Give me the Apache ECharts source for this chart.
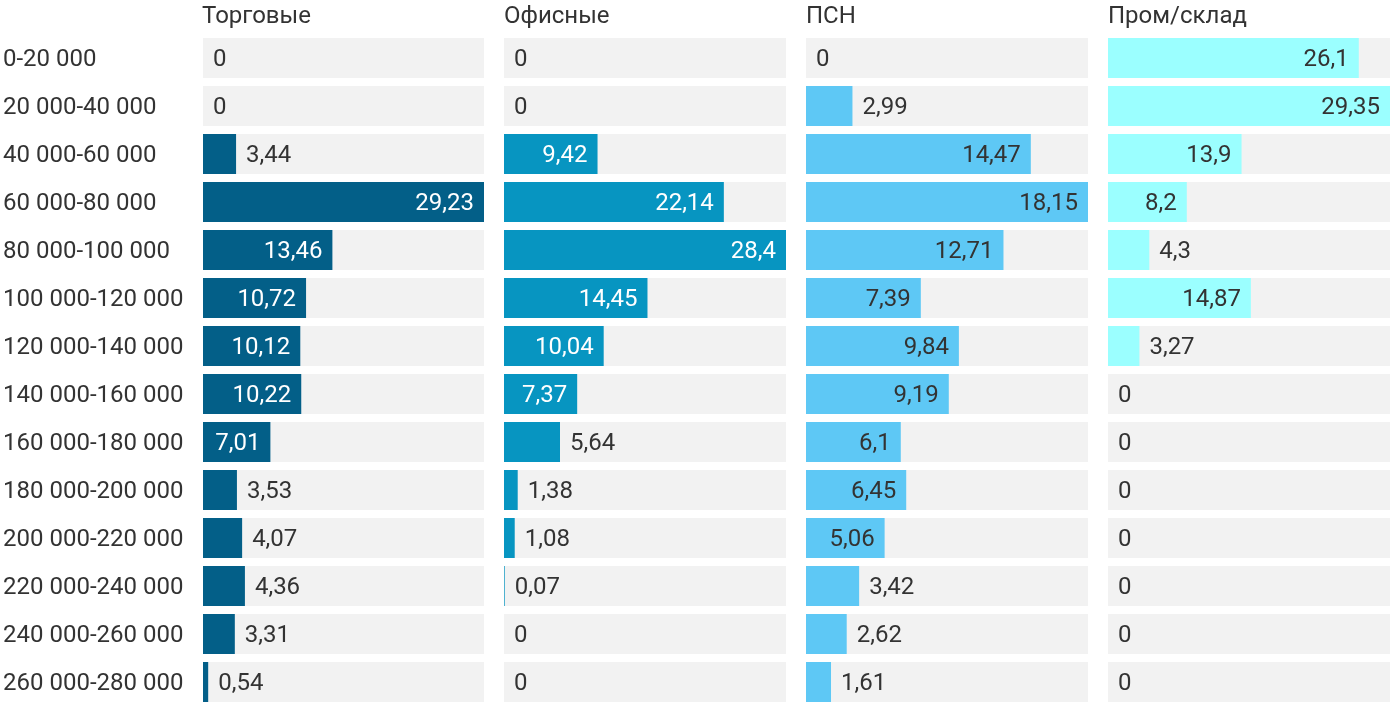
<!DOCTYPE html>
<html>
<head>
<meta charset="utf-8">
<script src="https://cdn.jsdelivr.net/npm/echarts@6/dist/echarts.min.js"></script>
<style>html,body{margin:0;padding:0;background:#fff}#c{width:1400px;height:718px}</style>
</head>
<body>
<div id="c"></div>
<script>
var categories = ['0-20 000','20 000-40 000','40 000-60 000','60 000-80 000','80 000-100 000','100 000-120 000','120 000-140 000','140 000-160 000','160 000-180 000','180 000-200 000','200 000-220 000','220 000-240 000','240 000-260 000','260 000-280 000'];
var panelTitles = ['Торговые','Офисные','ПСН','Пром/склад'];
var retail    = [0, 0, 3.44, 29.23, 13.46, 10.72, 10.12, 10.22, 7.01, 3.53, 4.07, 4.36, 3.31, 0.54];
var office    = [0, 0, 9.42, 22.14, 28.4, 14.45, 10.04, 7.37, 5.64, 1.38, 1.08, 0.07, 0, 0];
var psn       = [0, 2.99, 14.47, 18.15, 12.71, 7.39, 9.84, 9.19, 6.1, 6.45, 5.06, 3.42, 2.62, 1.61];
var warehouse = [26.1, 29.35, 13.9, 8.2, 4.3, 14.87, 3.27, 0, 0, 0, 0, 0, 0, 0];

var seriesValues = [retail, office, psn, warehouse];
var colors = ['#035f88', '#0795c1', '#5ec8f5', '#9bffff'];
var insideColors = ['#ffffff', '#ffffff', '#333333', '#333333'];
var lefts = [202, 504, 806, 1108];
var W = 282, TOP = 34, H = 672, FS = 24;

function fmt(v){ return String(v).replace('.', ','); }

var grids = [], xAxes = [], yAxes = [], series = [], titles = [];
seriesValues.forEach(function(vals, i){
  var mx = Math.max.apply(null, vals);
  grids.push({left: lefts[i], top: TOP, width: W, height: H, containLabel: false});
  xAxes.push({type: 'value', gridIndex: i, min: 0, max: mx, show: false});
  yAxes.push({
    type: 'category', gridIndex: i, data: categories, inverse: true,
    axisLine: {show: false}, axisTick: {show: false}, splitLine: {show: false},
    axisLabel: i === 0 ? {
      show: true, align: 'left', margin: 200,
      formatter: '{a|{value}}',
      rich: {a: {fontSize: FS, color: '#333', fontFamily: 'Roboto', padding: [4, 0, 0, 0]}}
    } : {show: false}
  });
  titles.push({text: panelTitles[i], left: lefts[i], top: 5, padding: 0,
    textStyle: {fontSize: FS, fontWeight: 'normal', color: '#333', fontFamily: 'Roboto'}});
  series.push({
    type: 'bar', xAxisIndex: i, yAxisIndex: i, barWidth: 40,
    showBackground: true, backgroundStyle: {color: '#f2f2f2'},
    itemStyle: {color: colors[i]},
    data: vals.map(function(v){
      var inside = v / mx > 0.21;
      return {
        value: v,
        label: {
          show: true,
          position: inside ? 'insideRight' : 'right',
          distance: 10,
          offset: [0, 1.5],
          color: inside ? insideColors[i] : '#333',
          fontSize: FS, fontFamily: 'Roboto',
          formatter: fmt(v)
        }
      };
    })
  });
});

var chart = echarts.init(document.getElementById('c'));
chart.setOption({
  animation: false,
  title: titles,
  grid: grids, xAxis: xAxes, yAxis: yAxes, series: series
});
</script>
</body>
</html>
